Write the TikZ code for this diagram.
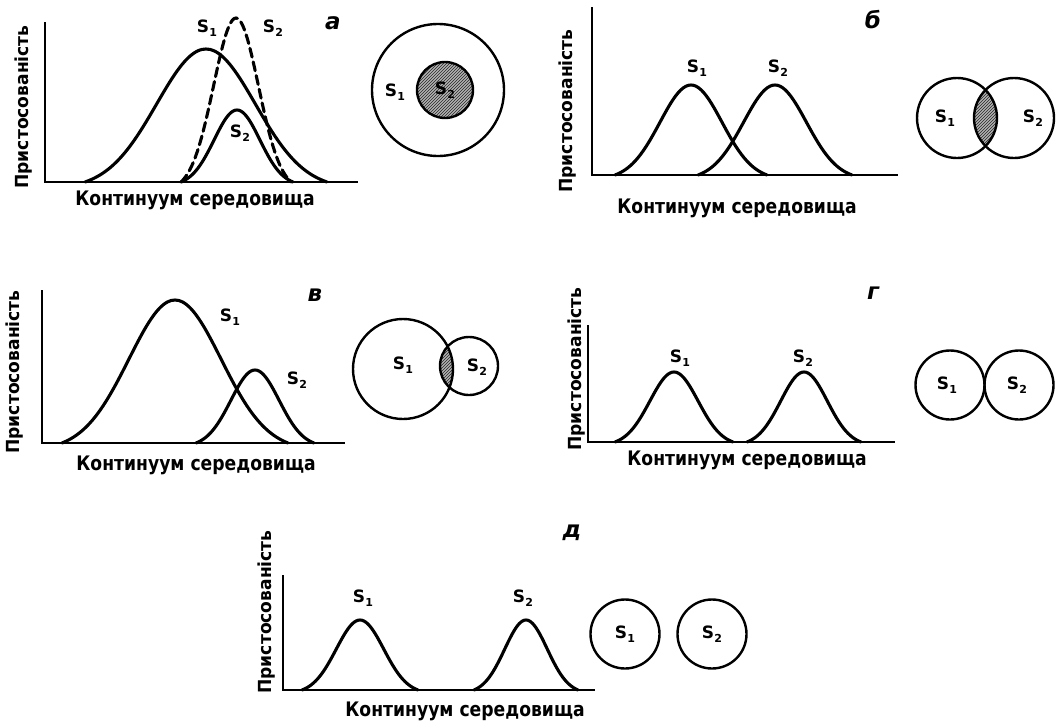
\documentclass[tikz,border=0pt]{standalone}
\usepackage{fontspec}
\usepackage{graphicx}
\setmainfont{DejaVu Sans}
\usetikzlibrary{patterns}
\newcommand\bellcurve[5][]{%
  \draw[curve,#1] plot[domain=-1:1,samples=61,smooth] ({#2+#3*\x},{#5-#4*(exp(-3*\x*\x)-0.0498)/0.9502});}
\newcommand\sname[1]{S\kern0.3pt\raisebox{-0.4ex}{\fontsize{11}{11}\selectfont #1}}
\newcommand\xtext[1]{\scalebox{0.86}[1]{#1}}
\newcommand\ytext[1]{\scalebox{0.95}[1]{#1}}
\tikzset{
  curve/.style={line width=3.1pt, line cap=round},
  axisline/.style={line width=2.7pt},
  ring/.style={line width=2.4pt},
  xlab/.style={font=\bfseries\fontsize{20}{20}\selectfont, inner sep=0pt},
  ylab/.style={font=\bfseries\fontsize{18}{18}\selectfont, rotate=90, inner sep=0pt},
  slab/.style={font=\bfseries\fontsize{17}{17}\selectfont, inner sep=0pt},
  panel/.style={font=\bfseries\itshape\fontsize{23}{23}\selectfont, inner sep=0pt},
  shade/.style={fill=gray!60},
  hatch/.style={pattern=north east lines, pattern color=black!85},
}
\begin{document}
\begin{tikzpicture}[x=1pt,y=-1pt]
\useasboundingbox (0,0) rectangle (1057,723);
% ---------------- panel a
\coordinate (aO) at (45,182);
\coordinate (aT) at (45,22);
\coordinate (aR) at (358,182);
\draw[axisline] (aT) -- (aO) -- (aR);
\bellcurve{206}{121}{133}{182}
\bellcurve[dash pattern=on 9pt off 5pt]{236}{55}{164}{182}
\bellcurve{237}{56}{72}{182}
\node[xlab] (aX) at (195,200) {\xtext{Континуум середовища}};
\node[ylab] (aY) at (24,107) {\ytext{Пристосованість}};
\node[slab] (aS1) at (207,28) {\sname{1}};
\node[slab] (aS2) at (273,28) {\sname{2}};
\node[slab] (aS2b) at (240,133) {\sname{2}};
\node[panel] (aL) at (333,23) {а};
\draw[ring] (438,90) circle (66);
\fill[shade] (445,90) circle (28);
\fill[hatch] (445,90) circle (28);
\draw[ring] (445,90) circle (28);
\node[slab] (aC1) at (395,92) {\sname{1}};
\node[slab] (aC2) at (445,90) {\sname{2}};
% ---------------- panel b
\coordinate (bO) at (592,175);
\coordinate (bT) at (592,7);
\coordinate (bR) at (898,175);
\draw[axisline] (bT) -- (bO) -- (bR);
\bellcurve{691}{76}{90}{175}
\bellcurve{775}{77}{90}{175}
\node[xlab] (bX) at (737,208) {\xtext{Континуум середовища}};
\node[ylab] (bY) at (568,111) {\ytext{Пристосованість}};
\node[slab] (bS1) at (697,68) {\sname{1}};
\node[slab] (bS2) at (778,68) {\sname{2}};
\node[panel] (bL) at (873,20) {б};
\begin{scope}
  \clip (957,118) circle (40);
  \fill[shade] (1014,118) circle (40);
  \fill[hatch] (1014,118) circle (40);
\end{scope}
\draw[ring] (957,118) circle (40);
\draw[ring] (1014,118) circle (40);
\node[slab] (bC1) at (945,118) {\sname{1}};
\node[slab] (bC2) at (1033,118) {\sname{2}};
% ---------------- panel v
\coordinate (vO) at (42,443);
\coordinate (vT) at (42,290);
\coordinate (vR) at (345,443);
\draw[axisline] (vT) -- (vO) -- (vR);
\bellcurve{175}{113}{143}{443}
\bellcurve{255}{59}{73}{443}
\node[xlab] (vX) at (196,465) {\xtext{Континуум середовища}};
\node[ylab] (vY) at (15,372) {\ytext{Пристосованість}};
\node[slab] (vS1) at (230,317) {\sname{1}};
\node[slab] (vS2) at (297,380) {\sname{2}};
\node[panel] (vL) at (315,295) {в};
\begin{scope}
  \clip (403,369) circle (50);
  \fill[shade] (469,366) circle (29);
  \fill[hatch] (469,366) circle (29);
\end{scope}
\draw[ring] (403,369) circle (50);
\draw[ring] (469,366) circle (29);
\node[slab] (vC1) at (403,365) {\sname{1}};
\node[slab] (vC2) at (477,367) {\sname{2}};
% ---------------- panel g
\coordinate (gO) at (588,442);
\coordinate (gT) at (588,325);
\coordinate (gR) at (895,442);
\draw[axisline] (gT) -- (gO) -- (gR);
\bellcurve{674}{59}{70}{442}
\bellcurve{804}{57}{70}{442}
\node[xlab] (gX) at (747,460) {\xtext{Континуум середовища}};
\node[ylab] (gY) at (577,369) {\ytext{Пристосованість}};
\node[slab] (gS1) at (680,358) {\sname{1}};
\node[slab] (gS2) at (803,358) {\sname{2}};
\node[panel] (gL) at (873,293) {г};
\draw[ring] (950,385) circle (34.5);
\draw[ring] (1019,385) circle (34.5);
\node[slab] (gC1) at (947,385) {\sname{1}};
\node[slab] (gC2) at (1017,385) {\sname{2}};
% ---------------- panel d
\coordinate (dO) at (283,690);
\coordinate (dT) at (283,575);
\coordinate (dR) at (595,690);
\draw[axisline] (dT) -- (dO) -- (dR);
\bellcurve{360}{58}{70}{690}
\bellcurve{526}{52}{70}{690}
\node[xlab] (dX) at (465,711) {\xtext{Континуум середовища}};
\node[ylab] (dY) at (267,612) {\ytext{Пристосованість}};
\node[slab] (dS1) at (363,598) {\sname{1}};
\node[slab] (dS2) at (523,598) {\sname{2}};
\node[panel] (dL) at (572,533) {д};
\draw[ring] (625,634) circle (34.5);
\draw[ring] (712,634) circle (34.5);
\node[slab] (dC1) at (625,634) {\sname{1}};
\node[slab] (dC2) at (712,634) {\sname{2}};
\end{tikzpicture}
\end{document}
